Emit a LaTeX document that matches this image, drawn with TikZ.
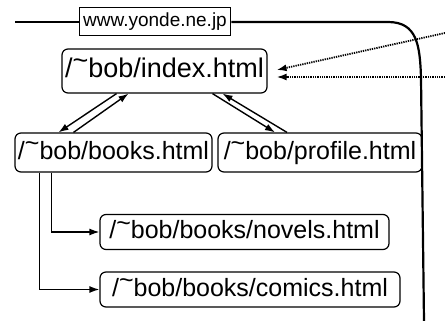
\documentclass[tikz,border=0pt]{standalone}
\usepackage{fontspec}
\setmainfont{Liberation Sans}
\usetikzlibrary{arrows.meta,calc,positioning}

\newcommand{\bobdir}{/\raisebox{.3em}{\textasciitilde}bob/}

\begin{document}
\begin{tikzpicture}[
		x=1pt, y=-1pt,
		page/.style={draw, line width=1.2pt, rounded corners=6pt, inner xsep=2pt, inner ysep=2pt, text height=18pt, text depth=5pt, font=\fontsize{25}{28}\selectfont},
		host/.style={draw, line width=1pt, fill=white, inner xsep=4pt, inner ysep=3pt, minimum height=28pt, font=\fontsize{19}{22}\selectfont},
		link/.style={-{Latex[length=10pt,width=7pt]}, line width=1.4pt},
		outlink/.style={link, dash pattern=on 1.3pt off 1pt, line width=1.8pt},
		server/.style={line width=2.2pt},
	]
		\useasboundingbox (0,0) rectangle (445,321);

		\node [host] (www) at (155,22) {www.yonde.ne.jp};
		\node [page, minimum height=44pt, minimum width=205pt, font=\fontsize{27}{30}\selectfont] (index) at (164.5,71) {\bobdir index.html};
		\node [page, minimum height=39pt, minimum width=197pt] (books) at (113.5,152.5) {\bobdir books.html};
		\node [page, minimum height=39pt, minimum width=204pt] (profile) at (320,152.5) {\bobdir profile.html};
		\node [page, minimum height=35pt, minimum width=289pt] (novels) at (244.5,232) {\bobdir books/novels.html};
		\node [page, minimum height=35pt, minimum width=300pt] (comics) at (250,289.5) {\bobdir books/comics.html};

		\coordinate (left end) at (15,22);
		\coordinate (right end) at (424,321);
		\coordinate (ext a) at (445,33);
		\coordinate (ext b) at (445,77);

		% server boundary
		\draw[server] (left end) -- (www.west);
		\draw[server] (www.east) -- (388,22) .. controls (417,22) and (420,45) .. (421,78) -- (right end);

		% links between pages
		\draw[link] ($(books.north)+(-40,0)$) -- ($(index.south)+(-36,0)$);
		\draw[link] ($(index.south)+(-48,0)$) -- ($(books.north)+(-55,0)$);
		\draw[link] ($(profile.north)+(-33,0)$) -- ($(index.south)+(58,0)$);
		\draw[link] ($(index.south)+(48,0)$) -- ($(profile.north)+(-45,0)$);
		\draw[link] ($(books.south)+(-62,0)$) |- (novels.west);
		\draw[link] ($(books.south)+(-74,0)$) |- (comics.west);

		% links from outside
		\draw[outlink] (ext a) -- ($(index.east)+(9,-1)$);
		\draw[outlink] (ext b) -- ($(index.east)+(9,6)$);
	\end{tikzpicture}
\end{document}
